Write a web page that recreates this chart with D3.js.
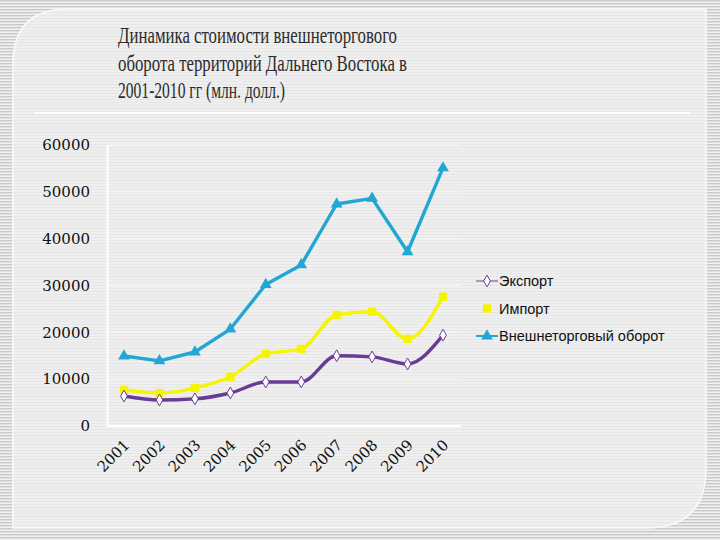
<!DOCTYPE html>
<html><head><meta charset="utf-8">
<script src="https://d3js.org/d3.v7.min.js"></script>
<style>body{margin:0;padding:0;background:#e4e4e4}svg{display:block}</style>
</head><body>
<script>
const years = ["2001","2002","2003","2004","2005","2006","2007","2008","2009","2010"];
const exportVals = [6400, 5550, 5800, 7050, 9400, 9400, 15000, 14750, 13250, 19400];
const importVals = [7700, 7050, 8100, 10500, 15400, 16450, 23700, 24400, 18600, 27600];
const totalVals = [14950, 13900, 15800, 20700, 30200, 34400, 47400, 48600, 37200, 55100];
const yTicks = [0, 10000, 20000, 30000, 40000, 50000, 60000];
const seriesNames = ["Экспорт", "Импорт", "Внешнеторговый оборот"];
const titleLines = ["Динамика стоимости внешнеторгового", "оборота территорий Дальнего Востока в", "2001-2010 гг (млн. долл.)"];
const titleWidths = [279, 289, 167];

const SERIF = "'DejaVu Serif', serif";
const TITLE = "'Liberation Serif', serif";
const SANS = "'Liberation Sans', Arial, sans-serif";

const W = 720, H = 540;
const svg = d3.select("body").append("svg").attr("width", W).attr("height", H);
const defs = svg.append("defs");
const outerPat = defs.append("pattern").attr("id","outerStripes").attr("width",4).attr("height",3).attr("patternUnits","userSpaceOnUse");
outerPat.append("rect").attr("width",4).attr("height",3).attr("fill","#f0f0f0");
outerPat.append("rect").attr("width",4).attr("height",1.4).attr("fill","#c8c8c8");
const innerPat = defs.append("pattern").attr("id","innerStripes").attr("width",4).attr("height",3).attr("patternUnits","userSpaceOnUse");
innerPat.append("rect").attr("width",4).attr("height",3).attr("fill","#efefef");
innerPat.append("rect").attr("width",4).attr("height",1).attr("fill","#e6e6e6");

svg.append("rect").attr("width",W).attr("height",H).attr("fill","url(#outerStripes)");
const px0=13, py0=9, px1=706, py1=528, r1=55, r2=60;
const panelPath = `M${px0},${py0+r1} Q${px0},${py0} ${px0+r1},${py0} L${px1},${py0} L${px1},${py1-r2} Q${px1},${py1} ${px1-r2},${py1} L${px0},${py1} Z`;
svg.append("path").attr("d",panelPath).attr("fill","url(#innerStripes)");
svg.append("path").attr("d",panelPath).attr("fill","none").attr("stroke","#fafafa").attr("stroke-width",1.5);

// title
titleLines.forEach((t,i)=>{
  svg.append("text").style("font-family",TITLE).style("font-size","23px").attr("fill","#2b2b2b")
    .attr("x",118).attr("y",43+i*27.5)
    .attr("textLength",titleWidths[i]).attr("lengthAdjust","spacingAndGlyphs").text(t);
});
svg.append("line").attr("x1",35).attr("x2",690).attr("y1",113).attr("y2",113).attr("stroke","#ffffff").attr("stroke-width",2);

const x = d3.scalePoint().domain(years).range([124, 443]);
const y = d3.scaleLinear().domain([0, 60000]).range([426, 145]);

svg.append("g").selectAll("line").data(yTicks).join("line")
  .attr("x1",107).attr("x2",461).attr("y1",d=>y(d)).attr("y2",d=>y(d))
  .attr("stroke","#ffffff").attr("stroke-opacity",0.55).attr("stroke-width",1);

const yAxis = svg.append("g").attr("transform","translate(107,0)")
  .call(d3.axisLeft(y).tickValues(yTicks).tickSize(0).tickPadding(17).tickFormat(d3.format("d")));
yAxis.select(".domain").attr("stroke","#ffffff").attr("stroke-width",2);
yAxis.selectAll("text").style("font-family",SERIF).style("font-size","15px").attr("fill","#111");

const xAxis = svg.append("g").attr("transform","translate(0,426)")
  .call(d3.axisBottom(x).tickSize(0).tickPadding(0));
xAxis.select(".domain").attr("d","M107,0H461").attr("stroke","#ffffff").attr("stroke-width",2);
xAxis.selectAll("text").style("font-family",SERIF).style("font-size","15px").attr("fill","#111")
  .attr("text-anchor","end").attr("dy",0)
  .attr("transform","translate(6,20) rotate(-45)");

const series = [
  {name: seriesNames[0], vals: exportVals, color:"#6a3a98", marker:"diamond", curve:d3.curveMonotoneX},
  {name: seriesNames[1], vals: importVals, color:"#f5f500", marker:"square", curve:d3.curveMonotoneX},
  {name: seriesNames[2], vals: totalVals, color:"#22a6d4", marker:"triangle", curve:d3.curveLinear}
];

function drawMarker(g, type, color){
  if(type==="diamond"){
    g.append("path").attr("d", d3.symbol(d3.symbolDiamond, 40)()).attr("fill","#ffffff").attr("stroke",color).attr("stroke-width",1);
  } else if(type==="square"){
    g.append("path").attr("d", d3.symbol(d3.symbolSquare, 70)()).attr("fill",color);
  } else {
    g.append("path").attr("d", d3.symbol(d3.symbolTriangle, 60)()).attr("fill",color);
  }
}

[series[2], series[1], series[0]].forEach(s=>{
  const line = d3.line().x((d,i)=>x(years[i])).y(d=>y(d)).curve(s.curve);
  svg.append("path").datum(s.vals).attr("d",line).attr("fill","none")
    .attr("stroke",s.color).attr("stroke-width",3.4).attr("stroke-linejoin","round");
  s.vals.forEach((v,i)=>{
    const g = svg.append("g").attr("transform",`translate(${x(years[i])},${y(v)})`);
    drawMarker(g, s.marker, s.color);
  });
});

const legend = svg.append("g");
series.forEach((s,i)=>{
  const ly = 281 + i*27.5;
  const g = legend.append("g").attr("transform",`translate(0,${ly})`);
  if(s.marker!=="square"){
    g.append("line").attr("x1",476).attr("x2",498).attr("y1",0).attr("y2",0).attr("stroke",s.color).attr("stroke-width",s.marker==="diamond"?1:2);
  }
  const mg = g.append("g").attr("transform","translate(487,0)");
  drawMarker(mg, s.marker, s.color);
  g.append("text").style("font-family",SANS).style("font-size","14.5px").attr("x",499).attr("y",5)
    .attr("fill","#111").text(s.name);
});
</script>
</body></html>
